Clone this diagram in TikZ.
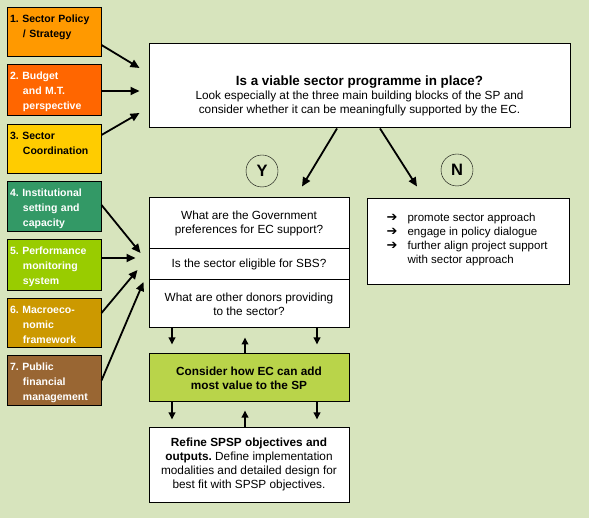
\documentclass[tikz,border=0pt]{standalone}
\usepackage{fontspec}
\setmainfont{Liberation Sans}
\newfontfamily\dingfont{DejaVu Sans}
\usetikzlibrary{arrows.meta, positioning, calc}

\definecolor{bgc}{HTML}{D7E4BD}
\definecolor{polc}{HTML}{FF9900}
\definecolor{budc}{HTML}{FF6600}
\definecolor{cooc}{HTML}{FFCC00}
\definecolor{insc}{HTML}{339966}
\definecolor{perc}{HTML}{99CC00}
\definecolor{macc}{HTML}{CC9900}
\definecolor{pfmc}{HTML}{996633}
\definecolor{consc}{HTML}{B9D44A}

\newcommand{\ind}{\hspace*{13pt}}
\newcommand{\darr}{{\dingfont\fontsize{13}{14}\selectfont\bfseries ➔}}
\frenchspacing

\begin{document}
\begin{tikzpicture}[
  x=1pt, y=-1pt,
  srcbox/.style={rectangle, draw, line width=1pt, minimum width=94pt, minimum height=48pt,
                 text width=88pt, inner xsep=3pt, align=left,
                 font=\fontsize{10.5}{15}\selectfont\bfseries,
                 execute at begin node=\rule{0pt}{12pt}},
  whitebox/.style={rectangle, draw, line width=1pt, fill=white, align=center,
                   font=\fontsize{11.8}{14.2}\selectfont},
  txt/.style={align=center, inner sep=0pt, font=\fontsize{11.8}{14}\selectfont},
  yn/.style={circle, draw, thin, minimum size=32pt, inner sep=0pt,
             font=\fontsize{16.5}{16}\selectfont\bfseries},
  arrow/.style={-{Triangle[length=9pt,width=8pt]}, line width=1.8pt},
  tick/.style={-{Triangle[length=7pt,width=6.5pt]}, line width=1.8pt}
]
\useasboundingbox (0,0) rectangle (589,518);
\fill[bgc] (0,0) rectangle (589,518);

% building blocks on the left
\node[srcbox, fill=polc] (pol) at (54,32) {1. Sector Policy\\\ind/ Strategy\\~};
\node[srcbox, fill=budc, text=white] (bud) at (54,90) {2. Budget\\\ind and M.T.\\\ind perspective};
\node[srcbox, fill=cooc] (coo) at (54,149) {3. Sector\\\ind Coordination\\~};
\node[srcbox, fill=insc, text=white] (ins) at (54,206.5) {4. Institutional\\\ind setting and\\\ind capacity};
\node[srcbox, fill=perc, text=white] (per) at (54,265) {5. Performance\\\ind monitoring\\\ind system};
\node[srcbox, fill=macc, text=white] (mac) at (54,323) {6. Macroeco-\\\ind nomic\\\ind framework};
\node[srcbox, fill=pfmc, text=white] (pfm) at (54,380.5) {7. Public\\\ind financial\\\ind management};

% main question
\node[whitebox, minimum width=421pt, minimum height=84pt] (main) at (359.5,86) {};
\node[txt] (mainq) at (359.5,95.5) {{\fontsize{13.4}{14}\selectfont\bfseries Is a viable sector programme in place?}\\[0pt]
  Look especially at the three main building blocks of the SP and\\
  consider whether it can be meaningfully supported by the EC.};

\node[yn] (yes) at (262,171) {Y};
\node[yn] (no) at (457,170) {N};

% yes branch
\node[whitebox, minimum width=200pt, minimum height=51pt] (q1) at (249,223.5) {What are the Government\\preferences for EC support?};
\node[whitebox, minimum width=200pt, minimum height=31pt] (q2) at (249,264.5) {Is the sector eligible for SBS?};
\node[whitebox, minimum width=200pt, minimum height=48pt] (q3) at (249,304) {What are other donors providing\\to the sector?};
\node[whitebox, fill=consc, minimum width=200pt, minimum height=48pt,
      font=\fontsize{11.8}{14}\selectfont\bfseries] (cons) at (249,378) {Consider how EC can add\\most value to the SP};
\node[whitebox, minimum width=200pt, minimum height=75pt] (ref) at (249,464.5)
  {\textbf{Refine SPSP objectives and}\\\textbf{outputs.} Define implementation\\modalities and detailed design for\\best fit with SPSP objectives.};

% no branch
\node[whitebox, minimum width=202pt, minimum height=86pt] (nbox) at (468,242) {};
\node[txt, anchor=west, align=left, font=\fontsize{11.5}{14}\selectfont] (nlist) at ([shift={(20,-2)}]nbox.west) {%
  \begin{tabular}{@{}l@{\hspace{10pt}}l@{}}
  \darr & promote sector approach\\
  \darr & engage in policy dialogue\\
  \darr & further align project support\\
        & with sector approach
  \end{tabular}};

% connectors
\draw[arrow] ([shift={(0,13)}]pol.east) -- ([shift={(-9,-18)}]main.west);
\draw[arrow] ([shift={(0,1)}]bud.east) -- ([shift={(-9,5)}]main.west);
\draw[arrow] ([shift={(0,-14)}]coo.east) -- ([shift={(-9,27)}]main.west);
\draw[arrow] ([shift={(0,-1.5)}]ins.east) -- ([shift={(-8,-11.5)}]q2.west);
\draw[arrow] ([shift={(0,-7)}]per.east) -- ([shift={(-13,-6.5)}]q2.west);
\draw[arrow] ([shift={(0,-10)}]mac.east) -- ([shift={(-11,5.5)}]q2.west);
\draw[arrow] (pfm.east) -- ([shift={(-5,17.5)}]q2.west);

\draw[arrow] ([shift={(-22.5,0)}]main.south) -- ([shift={(53,-11)}]q1.north);
\draw[arrow] ([shift={(20.5,0)}]main.south) -- ([shift={(-51,-12)}]nbox.north);

\draw[tick] ([shift={(-77,0)}]q3.south) -- ([shift={(-77,-9)}]cons.north);
\draw[tick] ([shift={(68,0)}]q3.south) -- ([shift={(68,-9)}]cons.north);
\draw[tick] ([shift={(-4,0)}]cons.north) -- ([shift={(-4,9)}]q3.south);
\draw[tick] ([shift={(-77,0)}]cons.south) -- ([shift={(-77,-7)}]ref.north);
\draw[tick] ([shift={(68,0)}]cons.south) -- ([shift={(68,-7)}]ref.north);
\draw[tick] ([shift={(-4,0)}]ref.north) -- ([shift={(-4,8)}]cons.south);
\end{tikzpicture}
\end{document}
